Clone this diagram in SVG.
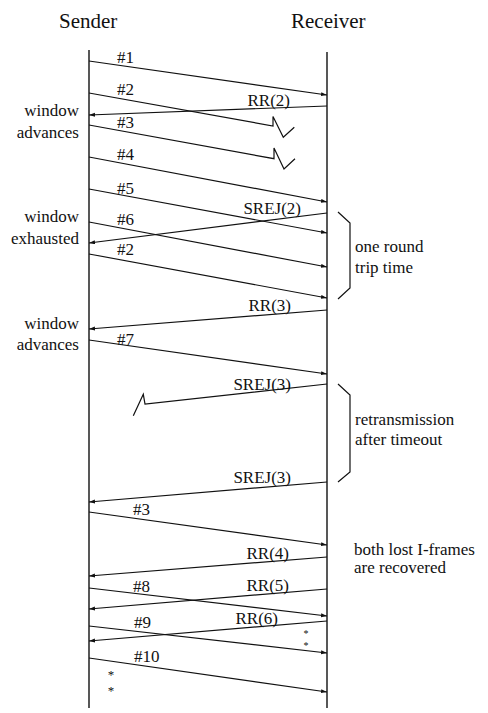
<svg xmlns="http://www.w3.org/2000/svg" width="488" height="713" viewBox="0 0 488 713">
  <style>
    text { font-family: "Liberation Serif", "DejaVu Serif", serif; fill: #111; }
    .title { font-size: 21px; }
    .lbl { font-size: 17px; }
    .note { font-size: 17px; }
    .r { text-anchor: end; }
    .life { stroke: #111; stroke-width: 1.4; fill: none; }
    .msg { stroke: #111; stroke-width: 1.2; fill: none; }
    .brace { stroke: #111; stroke-width: 1.2; fill: none; }
    .star { font-size: 13px; text-anchor: middle; }
    .star-sm { font-size: 10px; text-anchor: middle; }
  </style>
  <defs>
    <marker id="head" markerUnits="userSpaceOnUse" markerWidth="7" markerHeight="5" refX="6" refY="2" orient="auto">
      <path d="M0,0 L6,2 L0,4 z" fill="#111"/>
    </marker>
  </defs>
  <rect width="488" height="713" fill="#fff"/>

  <!-- Sender lifeline -->
  <g id="sender">
    <text class="title" x="59" y="28">Sender</text>
    <line class="life" x1="89" y1="50" x2="89" y2="708"/>
  </g>

  <!-- Receiver lifeline -->
  <g id="receiver">
    <text class="title" x="291" y="28">Receiver</text>
    <line class="life" x1="327" y1="52" x2="327" y2="708"/>
  </g>

  <!-- Frames exchanged between the two stations -->
  <g id="connectors">
    <!-- I-frames, sender to receiver -->
    <line class="msg" x1="89" y1="61" x2="327" y2="95" marker-end="url(#head)"/>
    <polyline class="msg" points="89,93 273,126 273,116.5 283.3,137.3 294.3,127.3"/>
    <polyline class="msg" points="89,125 274,158.7 274,148 284,169 295,158.7"/>
    <line class="msg" x1="89" y1="157" x2="327" y2="202" marker-end="url(#head)"/>
    <line class="msg" x1="89" y1="189" x2="327" y2="233" marker-end="url(#head)"/>
    <line class="msg" x1="89" y1="222" x2="327" y2="267" marker-end="url(#head)"/>
    <line class="msg" x1="89" y1="254" x2="327" y2="298" marker-end="url(#head)"/>
    <line class="msg" x1="89" y1="340" x2="327" y2="374" marker-end="url(#head)"/>
    <line class="msg" x1="89" y1="512" x2="327" y2="545" marker-end="url(#head)"/>
    <line class="msg" x1="89" y1="588" x2="327" y2="616" marker-end="url(#head)"/>
    <line class="msg" x1="89" y1="626" x2="327" y2="653" marker-end="url(#head)"/>
    <line class="msg" x1="89" y1="658" x2="327" y2="692" marker-end="url(#head)"/>

    <!-- Supervisory frames, receiver to sender -->
    <line class="msg" x1="327" y1="106" x2="89" y2="115" marker-end="url(#head)"/>
    <line class="msg" x1="327" y1="213" x2="89" y2="243" marker-end="url(#head)"/>
    <line class="msg" x1="327" y1="310" x2="89" y2="329" marker-end="url(#head)"/>
    <polyline class="msg" points="327,384 145,404 143.3,394.3 133.3,415.7"/>
    <line class="msg" x1="327" y1="482" x2="89" y2="502" marker-end="url(#head)"/>
    <line class="msg" x1="327" y1="557" x2="89" y2="576" marker-end="url(#head)"/>
    <line class="msg" x1="327" y1="589" x2="89" y2="609" marker-end="url(#head)"/>
    <line class="msg" x1="327" y1="621" x2="89" y2="641" marker-end="url(#head)"/>
  </g>

  <!-- Frame labels -->
  <g id="frame-labels">
    <text class="lbl" x="117" y="63">#1</text>
    <text class="lbl" x="117" y="95">#2</text>
    <text class="lbl" x="117" y="128">#3</text>
    <text class="lbl" x="117" y="160">#4</text>
    <text class="lbl" x="117" y="194">#5</text>
    <text class="lbl" x="117" y="225">#6</text>
    <text class="lbl" x="117" y="255">#2</text>
    <text class="lbl" x="117" y="345">#7</text>
    <text class="lbl" x="133" y="515">#3</text>
    <text class="lbl" x="133" y="592">#8</text>
    <text class="lbl" x="134" y="628">#9</text>
    <text class="lbl" x="134" y="662">#10</text>

    <text class="lbl r" x="290" y="106">RR(2)</text>
    <text class="lbl r" x="301" y="214">SREJ(2)</text>
    <text class="lbl r" x="291" y="311">RR(3)</text>
    <text class="lbl r" x="291" y="390">SREJ(3)</text>
    <text class="lbl r" x="291" y="483">SREJ(3)</text>
    <text class="lbl r" x="289" y="559">RR(4)</text>
    <text class="lbl r" x="289" y="591">RR(5)</text>
    <text class="lbl r" x="278" y="624">RR(6)</text>

    <!-- elision marks -->
    <text class="star-sm" x="306" y="637">*<tspan x="306" dy="11.5">*</tspan></text>
    <text class="star" x="111" y="679">*<tspan x="111" dy="16">*</tspan></text>
  </g>

  <!-- Sender-side notes -->
  <g id="sender-notes">
    <text class="note r" x="79" y="116">window</text>
    <text class="note r" x="79" y="138">advances</text>
    <text class="note r" x="79" y="222">window</text>
    <text class="note r" x="79" y="244">exhausted</text>
    <text class="note r" x="79" y="329">window</text>
    <text class="note r" x="79" y="350">advances</text>
  </g>

  <!-- Receiver-side notes with braces -->
  <g id="receiver-notes">
    <path class="brace" d="M338,212 L350,223 L350,288 L338,299"/>
    <text class="note" x="355" y="252">one round</text>
    <text class="note" x="355" y="273">trip time</text>

    <path class="brace" d="M338,384 L350,395 L350,472 L338,482"/>
    <text class="note" x="355" y="425">retransmission</text>
    <text class="note" x="355" y="445">after timeout</text>

    <text class="note" x="354" y="555">both lost I-frames</text>
    <text class="note" x="354" y="573">are recovered</text>
  </g>
</svg>
